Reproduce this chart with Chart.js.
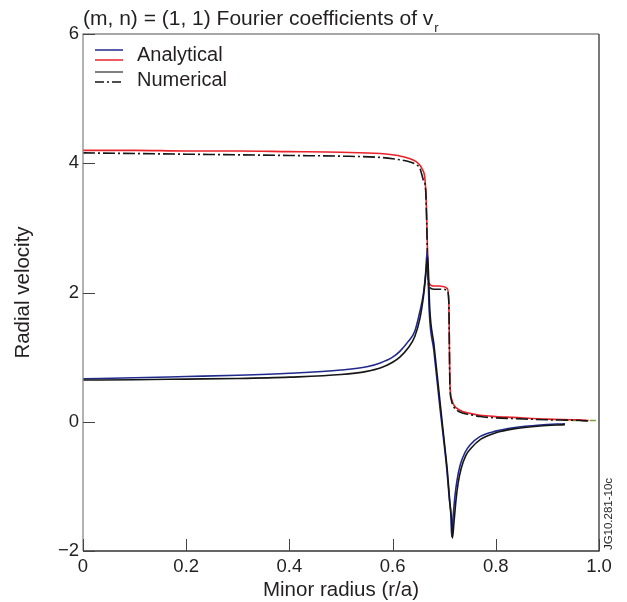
<!DOCTYPE html>
<html>
<head>
<meta charset="utf-8">
<script src="https://cdn.jsdelivr.net/npm/chart.js@4.4.1/dist/chart.umd.min.js"></script>
<style>
  html, body { margin: 0; padding: 0; background: #fff; }
  canvas { display: block; }
</style>
</head>
<body>
<canvas id="c" width="627" height="602"></canvas>
<script>
// ---- Data ----
const titleText = "(m, n) = (1, 1) Fourier coefficients of v";
const titleSub = "r";
const xTitle = "Minor radius (r/a)";
const yTitle = "Radial velocity";
const stamp = "JG10.281-10c";
const xTicks = [0, 0.2, 0.4, 0.6, 0.8, 1.0];
const yTicks = [-2, 0, 2, 4, 6];

// Analytical, real part (red)
const anaReX = [0, 0.1, 0.2, 0.3, 0.4, 0.5, 0.576, 0.61, 0.634, 0.645, 0.653, 0.658, 0.663, 0.666, 0.668, 0.670, 0.68, 0.69, 0.70, 0.706, 0.709, 0.710, 0.711, 0.714, 0.718, 0.724, 0.737, 0.75, 0.77, 0.80, 0.833, 0.90, 0.963, 0.98];
const anaReY = [4.20, 4.20, 4.19, 4.19, 4.18, 4.17, 4.15, 4.12, 4.07, 4.03, 3.97, 3.90, 3.73, 3.20, 2.50, 2.15, 2.10, 2.10, 2.09, 2.06, 1.85, 1.20, 0.60, 0.36, 0.27, 0.21, 0.155, 0.13, 0.10, 0.08, 0.067, 0.04, 0.03, 0.02];

// Analytical, imaginary part (blue)
const anaImX = [0, 0.1, 0.2, 0.3, 0.4, 0.5, 0.55, 0.576, 0.6, 0.614, 0.63, 0.643, 0.653, 0.66, 0.664, 0.667, 0.669, 0.671, 0.68, 0.692, 0.70, 0.705, 0.71, 0.713, 0.7145, 0.717, 0.721, 0.725, 0.731, 0.74, 0.75, 0.769, 0.80, 0.834, 0.886, 0.934];
const anaImY = [0.665, 0.68, 0.70, 0.72, 0.75, 0.80, 0.85, 0.91, 1.0, 1.09, 1.24, 1.40, 1.71, 2.0, 2.3, 2.64, 2.2, 1.71, 1.1, 0.2, -0.35, -0.73, -1.2, -1.45, -1.78, -1.5, -1.14, -0.9, -0.67, -0.48, -0.36, -0.23, -0.145, -0.093, -0.05, -0.03];

// Numerical, real part (black dash-dot)
const numReX = [0, 0.1, 0.2, 0.3, 0.4, 0.5, 0.576, 0.6, 0.634, 0.645, 0.653, 0.66, 0.664, 0.666, 0.668, 0.670, 0.68, 0.69, 0.70, 0.706, 0.709, 0.710, 0.711, 0.714, 0.718, 0.724, 0.737, 0.75, 0.77, 0.80, 0.833, 0.90, 0.963, 0.98];
const numReY = [4.16, 4.15, 4.14, 4.13, 4.12, 4.11, 4.09, 4.07, 4.02, 3.98, 3.92, 3.73, 3.60, 3.10, 2.40, 2.10, 2.05, 2.05, 2.05, 2.02, 1.85, 1.20, 0.60, 0.33, 0.24, 0.18, 0.13, 0.11, 0.08, 0.06, 0.05, 0.03, 0.02, 0.01];

// Numerical, imaginary part (black solid)
const numImX = [0, 0.1, 0.2, 0.3, 0.4, 0.5, 0.55, 0.576, 0.6, 0.614, 0.63, 0.643, 0.653, 0.66, 0.664, 0.668, 0.670, 0.672, 0.68, 0.692, 0.70, 0.706, 0.711, 0.714, 0.716, 0.719, 0.723, 0.727, 0.733, 0.742, 0.752, 0.771, 0.80, 0.834, 0.886, 0.934];
const numImY = [0.645, 0.65, 0.66, 0.67, 0.69, 0.73, 0.78, 0.83, 0.92, 1.0, 1.14, 1.32, 1.6, 1.95, 2.25, 2.55, 2.2, 1.75, 1.2, 0.3, -0.3, -0.75, -1.25, -1.5, -1.8, -1.55, -1.2, -0.95, -0.72, -0.52, -0.41, -0.27, -0.17, -0.11, -0.065, -0.045];

// short green trace near the edge
const tailX = [0.93, 0.96, 1.0];
const tailY = [0.025, 0.02, 0.02];

const pts = (xs, ys) => xs.map((x, i) => ({ x: x, y: ys[i] }));

const FONT = "'Liberation Sans', Arial, Helvetica, sans-serif";
const TXT = "#231f20";
const RED = "#e8232a", BLUE = "#1f2a8c", BLACK = "#161616", GREEN = "#79a23c";

const overlay = {
  id: "overlay",
  afterDatasetsDraw(chart) {
    const ctx = chart.ctx, a = chart.chartArea;
    const xs = chart.scales.x, ys = chart.scales.y;
    ctx.save();
    // frame
    ctx.lineWidth = 1.3;
    ctx.strokeStyle = "#8a8a8a";
    ctx.beginPath();
    ctx.moveTo(a.left, a.bottom); ctx.lineTo(a.left, a.top); ctx.lineTo(a.right, a.top);
    ctx.stroke();
    ctx.strokeStyle = "#333";
    ctx.beginPath();
    ctx.moveTo(a.right, a.top); ctx.lineTo(a.right, a.bottom); ctx.lineTo(a.left, a.bottom);
    ctx.stroke();
    // inner ticks
    ctx.strokeStyle = "#444";
    ctx.lineWidth = 1;
    xTicks.forEach(v => {
      const p = Math.round(xs.getPixelForValue(v)) + 0.5;
      ctx.beginPath(); ctx.moveTo(p, a.bottom); ctx.lineTo(p, a.bottom - 12); ctx.stroke();
    });
    yTicks.forEach(v => {
      const p = Math.round(ys.getPixelForValue(v)) + 0.5;
      ctx.beginPath(); ctx.moveTo(a.left, p); ctx.lineTo(a.left + 12, p); ctx.stroke();
    });
    // legend
    ctx.lineWidth = 1.5;
    const lx0 = 95, lx1 = 123;
    const seg = (y, color, dash) => {
      ctx.strokeStyle = color; ctx.setLineDash(dash || []);
      ctx.beginPath(); ctx.moveTo(lx0, y); ctx.lineTo(lx1, y); ctx.stroke();
    };
    seg(50, BLUE); seg(60, RED); seg(72, "#555"); seg(82, BLACK, [9, 3, 2, 3]);
    ctx.setLineDash([]);
    ctx.fillStyle = TXT;
    ctx.font = "20px " + FONT;
    ctx.textAlign = "left"; ctx.textBaseline = "alphabetic";
    ctx.fillText("Analytical", 137, 61);
    ctx.fillText("Numerical", 137, 86);
    // title
    ctx.font = "21px " + FONT;
    ctx.fillText(titleText, 83, 25);
    const w = ctx.measureText(titleText).width;
    ctx.font = "13px " + FONT;
    ctx.fillText(titleSub, 83 + w + 1, 32);
    // axis titles
    ctx.font = "20.5px " + FONT;
    ctx.textAlign = "center";
    ctx.fillText(xTitle, (a.left + a.right) / 2, 596);
    ctx.save();
    ctx.translate(29, (a.top + a.bottom) / 2);
    ctx.rotate(-Math.PI / 2);
    ctx.fillText(yTitle, 0, 0);
    ctx.restore();
    // stamp
    ctx.save();
    ctx.font = "11.5px " + FONT;
    ctx.textBaseline = "middle";
    ctx.translate(609, 514);
    ctx.rotate(-Math.PI / 2);
    ctx.fillText(stamp, 0, 0);
    ctx.restore();
    ctx.restore();
  }
};

const common = { pointRadius: 0, borderWidth: 1.6, fill: false, cubicInterpolationMode: "monotone" };

new Chart(document.getElementById("c"), {
  type: "line",
  data: {
    datasets: [
      Object.assign({ label: "Numerical (Im)", data: pts(numImX, numImY), borderColor: BLACK }, common),
      Object.assign({ label: "Analytical (Im)", data: pts(anaImX, anaImY), borderColor: BLUE }, common),
      Object.assign({ label: "Numerical (Re)", data: pts(numReX, numReY), borderColor: BLACK, borderDash: [12, 3, 2, 3] }, common),
      Object.assign({ label: "Analytical (Re)", data: pts(anaReX, anaReY), borderColor: RED }, common),
      Object.assign({ label: "tail", data: pts(tailX, tailY), borderColor: GREEN, borderDash: [6, 3] }, common)
    ]
  },
  options: {
    responsive: false,
    animation: false,
    parsing: true,
    layout: { padding: { top: 34, right: 28, left: 0, bottom: 0 } },
    plugins: { legend: { display: false }, tooltip: { enabled: false }, title: { display: false } },
    scales: {
      x: {
        type: "linear", min: 0, max: 1,
        afterFit(s) { s.height = 51; },
        afterBuildTicks(s) { s.ticks = xTicks.map(v => ({ value: v })); },
        grid: { display: false, drawTicks: false },
        border: { display: false },
        ticks: {
          padding: 5, color: TXT, font: { size: 18.5, family: FONT },
          callback: v => (v === 0 ? "0" : v.toFixed(1))
        }
      },
      y: {
        type: "linear", min: -2, max: 6,
        afterFit(s) { s.width = 83; },
        afterBuildTicks(s) { s.ticks = yTicks.map(v => ({ value: v })); },
        grid: { display: false, drawTicks: false },
        border: { display: false },
        ticks: {
          padding: 4, color: TXT, font: { size: 18.5, family: FONT },
          callback: v => (v < 0 ? "\u2212" + Math.abs(v) : String(v))
        }
      }
    }
  },
  plugins: [overlay]
});
</script>
</body>
</html>
